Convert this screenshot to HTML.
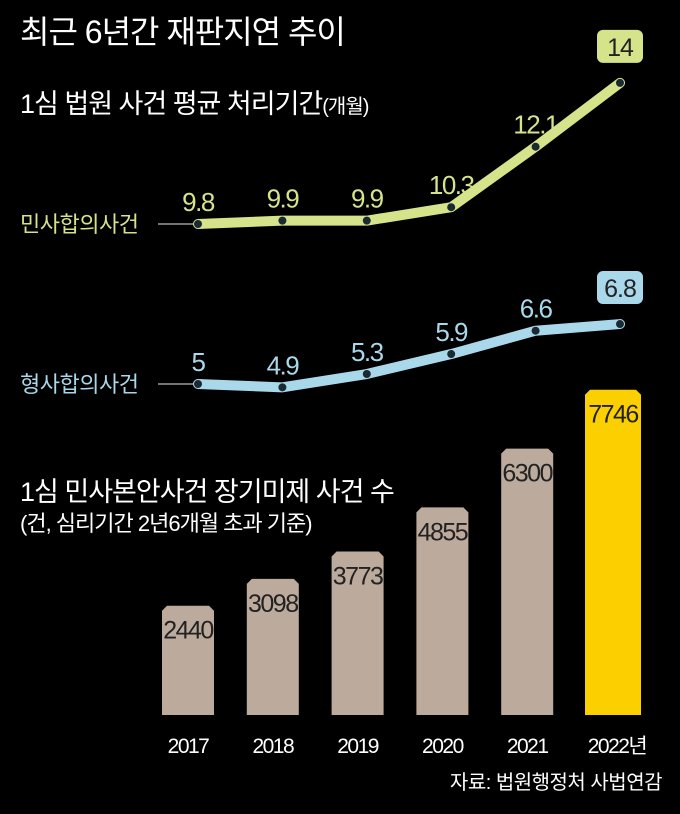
<!DOCTYPE html>
<html><head><meta charset="utf-8">
<style>
html,body{margin:0;padding:0;background:#000;}
svg{display:block;}
text{font-family:"Liberation Sans","Noto Sans CJK KR",sans-serif;}
</style></head>
<body>
<svg id="chart" width="680" height="814" viewBox="0 0 680 814">
<rect width="680" height="814" fill="#000"/>
<text x="20" y="43" font-size="32" fill="#fff" letter-spacing="-1">최근 6년간 재판지연 추이</text>
<text x="20" y="113" font-size="27" fill="#fff" letter-spacing="-1">1심 법원 사건 평균 처리기간<tspan font-size="20">(개월)</tspan></text>
<text x="20" y="232" font-size="22" fill="#d5e38a" letter-spacing="-0.5">민사합의사건</text>
<line x1="158" y1="224" x2="195" y2="224" stroke="#999" stroke-width="1.5"/>
<text x="20" y="392" font-size="22" fill="#a9d8ea" letter-spacing="-0.5">형사합의사건</text>
<line x1="158" y1="384" x2="195" y2="384" stroke="#999" stroke-width="1.5"/>
<text x="20" y="501" font-size="27" fill="#fff" letter-spacing="-1">1심 민사본안사건 장기미제 사건 수</text>
<text x="20" y="531" font-size="22" fill="#fff" letter-spacing="-1">(건, 심리기간 2년6개월 초과 기준)</text>
<text x="662" y="789" font-size="20" fill="#fff" text-anchor="end" letter-spacing="-0.5">자료: 법원행정처 사법연감</text>
<g id="bars"></g>
<g id="lines"></g>
</svg>
<script>
const years = ['2017','2018','2019','2020','2021','2022년'];
const civil = [9.8, 9.9, 9.9, 10.3, 12.1, 14];
const criminal = [5, 4.9, 5.3, 5.9, 6.6, 6.8];
const backlog = [2440, 3098, 3773, 4855, 6300, 7746];
const civilLabels = ['9.8','9.9','9.9','10.3','12.1','14'];
const criminalLabels = ['5','4.9','5.3','5.9','6.6','6.8'];

const NS='http://www.w3.org/2000/svg';
function mk(tag, attrs, parent){const e=document.createElementNS(NS,tag);for(const k in attrs)e.setAttribute(k,attrs[k]);parent.appendChild(e);return e;}
const xLine = i => 198 + i*84.4;
const yCivil = v => 224 - (v-9.8)*33.6;
const yCrim = v => 384 - (v-5)*33.3;
const xBar = i => 162 + i*84.8;
const barW = 52, baseY = 715;
const yBar = v => 705 - v*0.0407;

const bars=document.getElementById('bars');
backlog.forEach((v,i)=>{
  const x=xBar(i)+(i===5?-1:0), w=barW+(i===5?4:0), t=yBar(v), c=5;
  const p=mk('path',{d:`M${x},${baseY} L${x},${t+c} L${x+c},${t} L${x+w-c},${t} L${x+w},${t+c} L${x+w},${baseY} Z`,fill:i===5?'#fcd000':'#bcaa9c'},bars);
  
  
  const tx=mk('text',{x:x+w/2,y:t+33,'font-size':25,fill:'#222','text-anchor':'middle','letter-spacing':'-1.5'},bars);
  tx.textContent=String(v);
  
  
  const yl=mk('text',{x:x+w/2+(i===5?4:0),y:753,'font-size':21,fill:'#fff','text-anchor':'middle','letter-spacing':'-1.5'},bars);
  yl.textContent=years[i];
  
  
});

const lines=document.getElementById('lines');
function series(vals, labels, yf, color, name){
  const pts=vals.map((v,i)=>xLine(i)+','+yf(v)).join(' ');
  const pl=mk('polyline',{points:pts,fill:'none',stroke:color,'stroke-width':10,'stroke-linejoin':'round','stroke-linecap':'round'},lines);
  
  
  vals.forEach((v,i)=>{
    const x=xLine(i), y=yf(v);
    const d=mk('circle',{cx:x,cy:y,r:4,fill:'#1a2a33'},lines);
    
    
    if(i===vals.length-1){
      const b=mk('rect',{x:x-23,y:y-53,width:46,height:33,rx:6,fill:color},lines);
      
      
      const t=mk('text',{x:x,y:y-27,'font-size':25,fill:'#222','text-anchor':'middle','letter-spacing':'-1'},lines);
      t.textContent=labels[i];
      
      
    } else {
      const t=mk('text',{x:x,y:y-13,'font-size':26,fill:color,'text-anchor':'middle','letter-spacing':'-1.5'},lines);
      t.textContent=labels[i];
      
      
    }
  });
}
series(civil, civilLabels, yCivil, '#d5e38a', 'civil');
series(criminal, criminalLabels, yCrim, '#a9d8ea', 'criminal');
</script>
</body></html>
